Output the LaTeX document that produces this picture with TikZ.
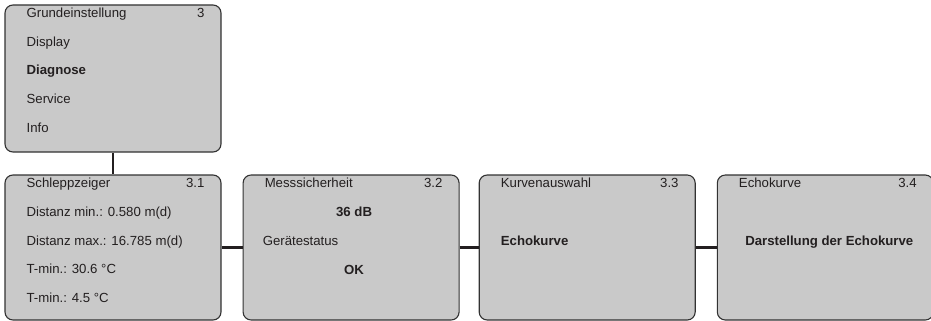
\documentclass[tikz,border=0pt]{standalone}
\usepackage{fontspec}
\setmainfont{Liberation Sans}
\usetikzlibrary{calc,positioning}
\definecolor{menugrau}{RGB}{201,201,201}
\definecolor{randgrau}{RGB}{50,50,50}
\definecolor{schrift}{RGB}{35,31,32}

\begin{document}
\begin{tikzpicture}[x=1pt,y=-1pt,
	menu/.style={draw=randgrau,line width=1.1pt,fill=menugrau,rounded corners=8pt,
		minimum width=216pt,minimum height=145pt,inner sep=0pt},
	zeile/.style={anchor=base west,inner sep=0pt,text=schrift,font=\fontsize{13.2}{15}\selectfont},
	nummer/.style={zeile,anchor=base east},
	mitte/.style={zeile,anchor=base,font=\fontsize{13.2}{15}\selectfont\bfseries},
	verbindung/.style={draw=schrift,line width=2.2pt}]
\useasboundingbox (0,0) rectangle (931,321);

% Hauptmenue
\node[menu,minimum height=147pt] (m3) at (113,78.5) {};
\node[zeile] (m3t) at ($(m3.north west)+(22,13.3)$) {Grundeinstellung};
\node[nummer] (m3n) at ($(m3.north east)+(-17,13.3)$) {3};
\foreach \txt [count=\i] in {Display,{\textbf{Diagnose}},Service,Info}{
	\node[zeile] (m3z\i) at ($(m3.north west)+(22,13.3+28.6*\i)$) {\txt};
}

% Untermenues
\node[menu] (s31) at (113,247.5) {};
\node[menu,right=21pt of s31] (s32) {};
\node[menu,right=19pt of s32] (s33) {};
\node[menu,right=21pt of s33] (s34) {};

%3.1
\node[zeile] (s31t) at ($(s31.north west)+(22,13.3)$) {Schleppzeiger};
\node[nummer] (s31n) at ($(s31.north east)+(-17,13.3)$) {3.1};
\foreach \txt [count=\i] in {Distanz min.: 0.580 m(d),Distanz max.: 16.785 m(d),T-min.: 30.6 °C,T-min.: 4.5 °C}{
	\node[zeile] (s31z\i) at ($(s31.north west)+(22,13.3+28.7*\i)$) {\txt};
}

%3.2
\node[zeile] (s32t) at ($(s32.north west)+(22,13.3)$) {Messsicherheit};
\node[nummer] (s32n) at ($(s32.north east)+(-17,13.3)$) {3.2};
\node[mitte] (s32z1) at ($(s32.north)+(3,41.7)$) {36 dB};
\node[zeile] (s32z2) at ($(s32.north west)+(20,71)$) {Gerätestatus};
\node[mitte] (s32z3) at ($(s32.north)+(3,100)$) {OK};

%3.3
\node[zeile] (s33t) at ($(s33.north west)+(22,13.3)$) {Kurvenauswahl};
\node[nummer] (s33n) at ($(s33.north east)+(-17,13.3)$) {3.3};
\node[zeile] (s33z1) at ($(s33.north west)+(22,71)$) {\textbf{Echokurve}};

%3.4
\node[zeile] (s34t) at ($(s34.north west)+(22,13.3)$) {Echokurve};
\node[nummer] (s34n) at ($(s34.north east)+(-17,13.3)$) {3.4};
\node[mitte] (s34z1) at ($(s34.north)+(4,71)$) {Darstellung der Echokurve};

% Verbindungen
\draw[verbindung] (m3.south) -- (s31.north);
\draw[verbindung] (s31.east) -- (s32.west);
\draw[verbindung] (s32.east) -- (s33.west);
\draw[verbindung] (s33.east) -- (s34.west);

\end{tikzpicture}
\end{document}
